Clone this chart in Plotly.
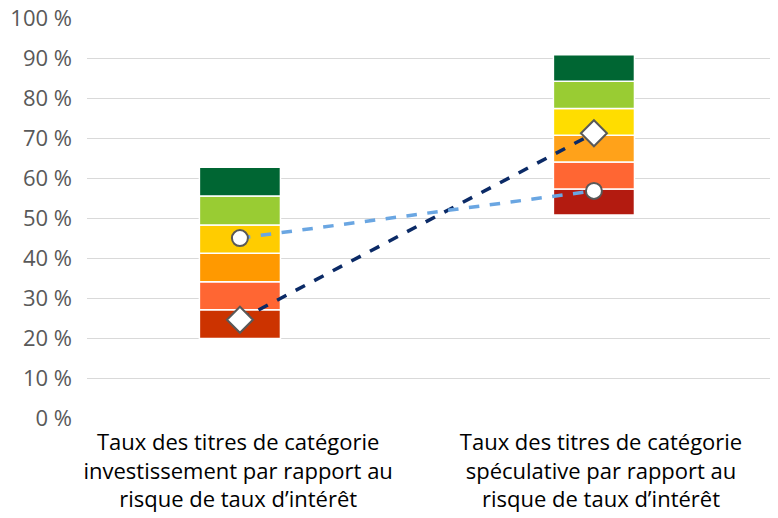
import plotly.graph_objects as go

# category labels under the two bars
categories = ["Taux des titres de catégorie<br>investissement par rapport au<br>risque de taux d’intérêt",
              "Taux des titres de catégorie<br>spéculative par rapport au<br>risque de taux d’intérêt"]

# segment boundaries (bottom to top) for each bar, in %
left_bounds = [20.0, 27.2, 34.2, 41.3, 48.4, 55.6, 62.8]
right_bounds = [50.9, 57.4, 64.1, 70.8, 77.5, 84.3, 90.9]

left_colors = ["#CC3300", "#FF6633", "#FF9900", "#FFCC00", "#99CC33", "#006633"]
right_colors = ["#B31B10", "#FF6633", "#FFA21A", "#FFDD00", "#99CC33", "#006633"]

# marker series
diamond_vals = [24.7, 71.3]
circle_vals = [45.1, 56.9]

xpos = [0, 1]

fig = go.Figure()
for i in range(6):
    bases = [left_bounds[i], right_bounds[i]]
    heights = [left_bounds[i + 1] - left_bounds[i], right_bounds[i + 1] - right_bounds[i]]
    fig.add_trace(go.Bar(x=xpos, y=heights, base=bases, width=0.229,
                         marker=dict(color=[left_colors[i], right_colors[i]],
                                     line=dict(color="white", width=1.5)),
                         showlegend=False, hoverinfo="skip"))

fig.add_trace(go.Scatter(x=xpos, y=diamond_vals, mode="lines+markers",
                         line=dict(color="#0B2A66", width=3.5, dash="dash"),
                         marker=dict(symbol="diamond", size=20, color="white",
                                     line=dict(color="#595959", width=2)),
                         showlegend=False))
fig.add_trace(go.Scatter(x=xpos, y=circle_vals, mode="lines+markers",
                         line=dict(color="#6AA6E2", width=3.5, dash="dash"),
                         marker=dict(symbol="circle", size=16, color="white",
                                     line=dict(color="#595959", width=2)),
                         showlegend=False))

# page body has an 8px offset, so margins are shifted to compensate
fig.update_layout(
    width=778, height=518,
    margin=dict(l=79, r=14, t=10, b=107),
    plot_bgcolor="white", paper_bgcolor="white",
    font=dict(family="Open Sans, sans-serif", size=22, color="#000000"),
    barmode="overlay",
)
fig.update_xaxes(range=[-0.432, 1.503], tickvals=[-0.005, 1.02], ticktext=categories,
                 showgrid=False, zeroline=False, showline=False, ticks="",
                 tickfont=dict(size=22, color="#000000"), ticklabelstandoff=8,
                 automargin=False, ticklabeloverflow="allow")
fig.update_yaxes(range=[-0.1, 100.1], dtick=10, tick0=0, ticksuffix=" %", showgrid=True,
                 gridcolor="#D9D9D9", gridwidth=1, zeroline=False,
                 tickfont=dict(size=22, color="#595959"), ticklabelstandoff=14,
                 automargin=False, ticklabeloverflow="allow")

fig.write_html("out.html")
